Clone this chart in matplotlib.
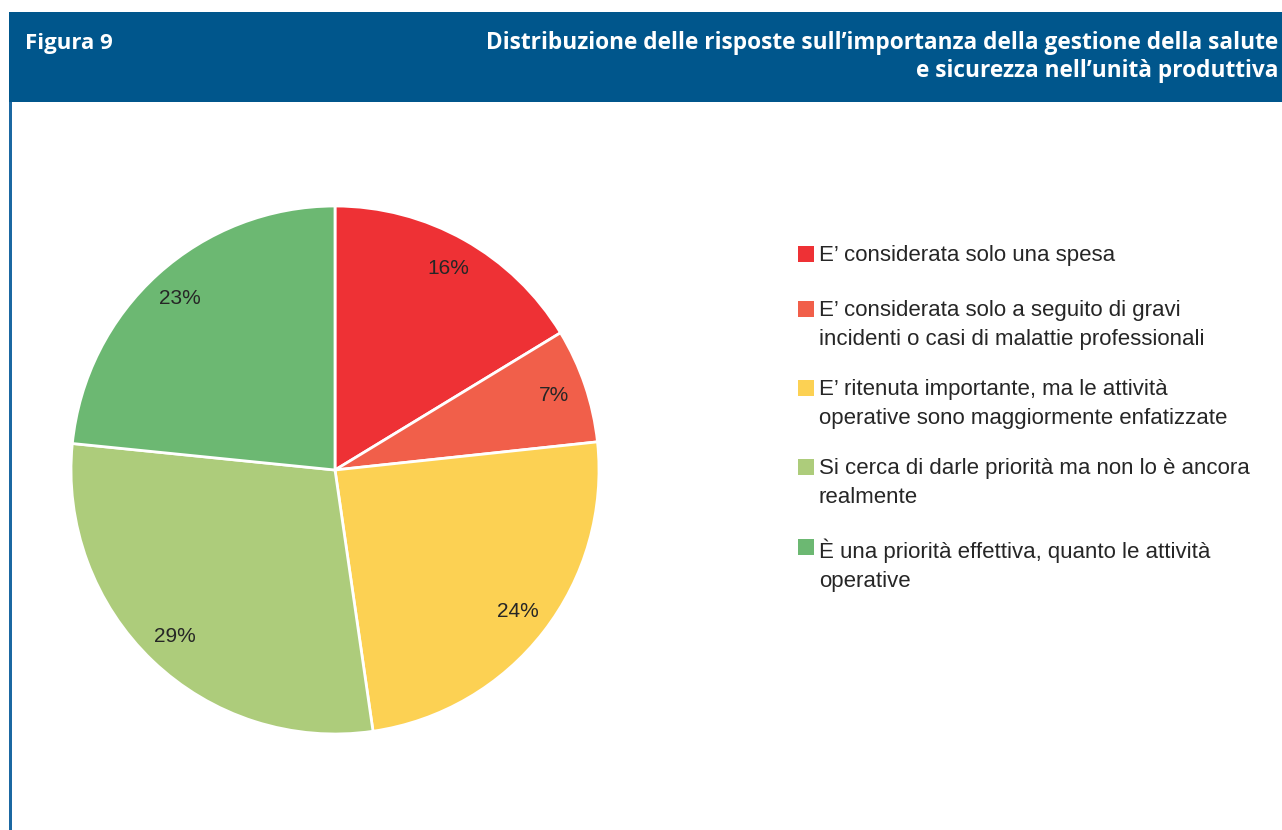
import matplotlib
matplotlib.use("Agg")
import matplotlib.pyplot as plt
from matplotlib.patches import Rectangle

categories = [
    "E\u2019 considerata solo una spesa",
    "E\u2019 considerata solo a seguito di gravi\nincidenti o casi di malattie professionali",
    "E\u2019 ritenuta importante, ma le attività\noperative sono maggiormente enfatizzate",
    "Si cerca di darle priorità ma non lo è ancora\nrealmente",
    "È una priorità effettiva, quanto le attività\noperative",
]
values = [16.3, 7.0, 24.4, 28.9, 23.4]
colors = ["#EE3135", "#F15F4A", "#FCD153", "#ADCC7B", "#6CB872"]
fig_label = "Figura 9"
title = "Distribuzione delle risposte sull\u2019importanza della gestione della salute\ne sicurezza nell\u2019unità produttiva"

W, H = 1282, 830
fig = plt.figure(figsize=(W / 100, H / 100), dpi=100)
fig.patch.set_facecolor("white")

# header band
fig.patches.append(Rectangle((9 / W, 1 - 102 / H), 1 - 9 / W, 90 / H,
                             transform=fig.transFigure, facecolor="#00568C",
                             edgecolor="none", zorder=0))
# left border line
fig.patches.append(Rectangle((9 / W, 0), 2.5 / W, 1 - 102 / H,
                             transform=fig.transFigure, facecolor="#1B68A2",
                             edgecolor="none", zorder=0))

fig.text(25 / W, 1 - 44 / H, fig_label, color="white", fontsize=16,
         fontweight="bold", family="Open Sans", va="center", ha="left")
fig.text(1278 / W, 1 - 57 / H, title, color="white", fontsize=16.3,
         fontweight="bold", family="Open Sans", va="center", ha="right",
         multialignment="right", linespacing=1.24)

# pie
cx, cy, r = 335, 470, 264
ax = fig.add_axes([(cx - r) / W, (H - cy - r) / H, 2 * r / W, 2 * r / H])
wedges, texts, autotexts = ax.pie(
    values, colors=colors, startangle=90, counterclock=False,
    autopct="%.0f%%", pctdistance=0.875,
    wedgeprops=dict(edgecolor="white", linewidth=2),
    textprops=dict(fontsize=15, color="#262626", family="Liberation Sans"))
ax.set_xlim(-1, 1)
ax.set_ylim(-1, 1)
ax.set_aspect("equal")
ax.axis("off")

# legend
ys = [254, 309, 388, 467, 547]
for y, lab, col in zip(ys, categories, colors):
    fig.patches.append(Rectangle((798 / W, 1 - (y + 8) / H), 16 / W, 16 / H,
                                 transform=fig.transFigure, facecolor=col,
                                 edgecolor="none"))
    fig.text(819 / W, 1 - (y - 9) / H, lab, fontsize=16, color="#262626",
             family="Liberation Sans", va="top", ha="left", linespacing=1.52)

fig.savefig("out.png", dpi=100)
